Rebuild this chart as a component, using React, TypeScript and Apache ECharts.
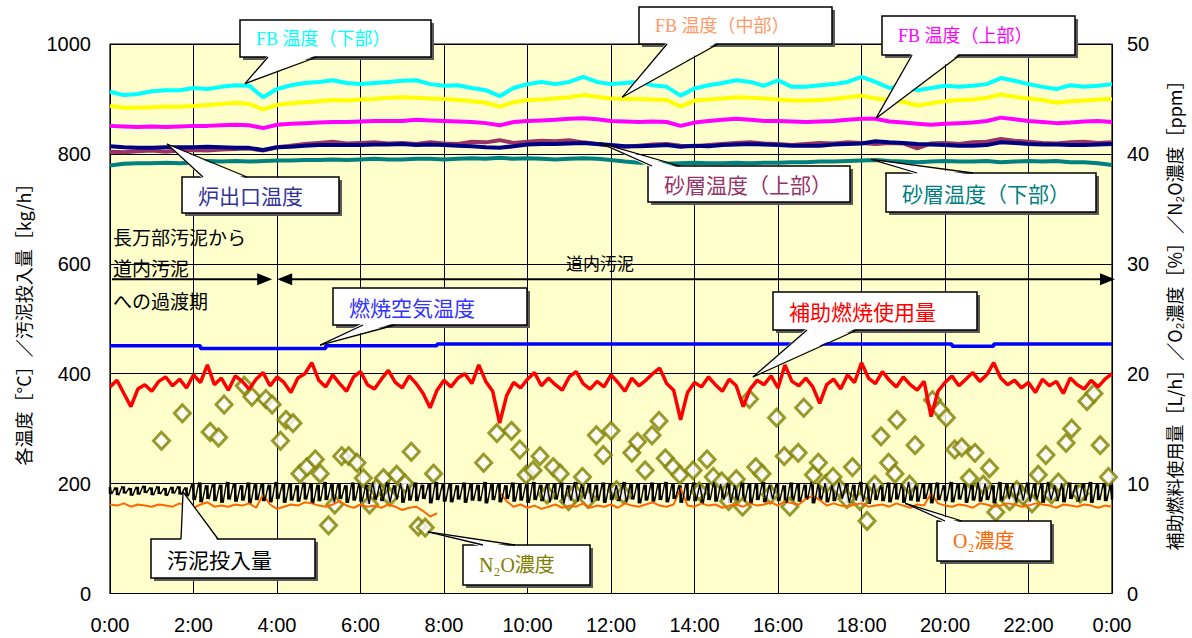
import { useEffect, useRef } from "react";
import * as echarts from "echarts";

// ---- time axis ----
const timeLabels = ["0:00", "2:00", "4:00", "6:00", "8:00", "10:00", "12:00", "14:00", "16:00", "18:00", "20:00", "22:00", "0:00"];

// temperature logs sampled every 20 min, other logs every 10 min
const tempTimes = Array.from({ length: 73 }, (_, i) => i * 20);
const logTimes = Array.from({ length: 145 }, (_, i) => i * 10);

// ---- temperatures [°C] ----
const fbLower = [
  913, 907, 909, 914, 916, 916, 920, 918, 922, 925,
  924, 903, 918, 925, 929, 931, 934, 929, 927, 929,
  931, 933, 934, 927, 924, 925, 920, 916, 905, 920,
  927, 931, 927, 931, 940, 931, 927, 929, 931, 925,
  922, 906, 919, 925, 929, 934, 931, 924, 934, 922,
  922, 925, 927, 931, 940, 931, 920, 924, 916, 920,
  924, 922, 924, 927, 938, 933, 927, 922, 918, 925,
  922, 924, 927,
];
const fbMiddle = [
  887, 884, 884, 885, 886, 886, 887, 889, 891, 893,
  891, 881, 889, 892, 894, 896, 898, 897, 899, 900,
  902, 903, 902, 901, 900, 898, 896, 893, 886, 894,
  898, 899, 901, 903, 907, 904, 901, 900, 900, 899,
  898, 886, 897, 899, 901, 903, 902, 901, 899, 897,
  897, 898, 900, 903, 906, 901, 898, 895, 888, 892,
  896, 898, 899, 902, 908, 904, 901, 898, 893, 896,
  897, 899, 900,
];
const fbUpper = [
  851, 850, 849, 850, 849, 850, 851, 851, 852, 853,
  852, 847, 853, 855, 856, 857, 858, 858, 859, 860,
  860, 860, 862, 861, 860, 859, 858, 856, 852, 858,
  860, 861, 862, 864, 865, 863, 860, 859, 858, 859,
  858, 851, 857, 860, 862, 864, 862, 860, 860, 859,
  858, 859, 860, 862, 864, 864, 859, 857, 855, 853,
  855, 856, 857, 860, 866, 863, 860, 858, 856, 857,
  859, 860, 858,
];
const furnaceOutlet = [
  814, 812, 811, 811, 812, 812, 812, 813, 812, 811,
  811, 807, 812, 813, 815, 816, 816, 816, 816, 817,
  817, 818, 816, 817, 816, 815, 814, 812, 811, 814,
  817, 818, 818, 819, 820, 818, 816, 814, 814, 815,
  816, 813, 815, 814, 816, 817, 818, 817, 816, 815,
  815, 815, 817, 818, 819, 823, 821, 820, 818, 817,
  816, 815, 815, 816, 821, 820, 818, 817, 817, 816,
  816, 817, 818,
];
const sandUpper = [
  804, 803, 805, 806, 804, 806, 807, 806, 808, 809,
  810, 806, 812, 815, 818, 820, 822, 819, 820, 821,
  819, 820, 818, 821, 819, 818, 822, 821, 825, 820,
  822, 824, 823, 825, 821, 818, 815, 813, 815, 817,
  818, 815, 814, 816, 818, 820, 821, 819, 818, 816,
  818, 820, 819, 821, 820, 818, 820, 819, 810, 819,
  820, 818, 821, 822, 827, 824, 822, 820, 819, 821,
  822, 820, 821,
];
const sandLower = [
  779, 782, 783, 783, 784, 783, 784, 787, 786, 787,
  786, 787, 788, 788, 789, 789, 790, 789, 790, 791,
  790, 790, 791, 791, 790, 791, 792, 791, 793, 791,
  792, 791, 790, 791, 792, 791, 789, 786, 784, 784,
  782, 783, 784, 783, 783, 784, 783, 784, 784, 785,
  785, 786, 786, 787, 788, 789, 787, 786, 785, 786,
  787, 786, 786, 787, 785, 786, 787, 786, 787, 785,
  785, 783, 780,
];
const combustionAir = [
  451, 451, 451, 451, 451, 451, 451, 446, 446, 446,
  446, 446, 446, 446, 446, 446, 451, 451, 451, 451,
  451, 451, 451, 451, 454, 454, 454, 454, 454, 454,
  454, 454, 454, 454, 454, 454, 454, 454, 454, 454,
  454, 454, 454, 454, 454, 454, 454, 454, 454, 454,
  454, 454, 454, 454, 454, 454, 454, 454, 454, 454,
  454, 450, 450, 450, 454, 454, 454, 454, 454, 454,
  454, 454, 454,
];

// ---- sludge feed [kg/h]: upper / lower swing of each 10 min ----
const sludgeHigh = [
  194, 193, 195, 192, 194, 196, 193, 195, 192, 194,
  195, 193, 199, 202, 197, 201, 198, 203, 200, 197,
  202, 199, 201, 198, 203, 199, 201, 197, 202, 200,
  198, 203, 199, 201, 197, 202, 200, 198, 202, 199,
  203, 197, 201, 199, 202, 198, 200, 203, 199, 201,
  197, 202, 200, 198, 203, 199, 201, 197, 202, 200,
  199, 203, 198, 201, 200, 202, 197, 203, 199, 201,
  198, 202, 200, 197, 203, 199, 201, 198, 202, 200,
  203, 199, 197, 201, 202, 198, 200, 203, 199, 201,
  197, 202, 200, 199, 203, 198, 201, 197, 202, 200,
  198, 203, 199, 201, 197, 202, 200, 198, 203, 199,
  201, 197, 202, 200, 199, 203, 198, 201, 200, 202,
  197, 203, 199, 201, 198, 202, 200, 197, 203, 199,
  201, 198, 202, 200, 199, 203, 197, 201, 202, 198,
  200, 203, 199, 201, 198,
];
const sludgeLow = [
  181, 179, 182, 178, 180, 183, 179, 181, 178, 182,
  180, 177, 170, 166, 172, 168, 165, 171, 167, 169,
  164, 170, 168, 166, 172, 165, 169, 167, 171, 164,
  168, 170, 166, 172, 165, 169, 167, 163, 170, 168,
  166, 171, 165, 169, 168, 172, 164, 170, 167, 166,
  171, 165, 169, 168, 164, 170, 166, 172, 167, 169,
  165, 170, 168, 166, 171, 164, 169, 167, 172, 166,
  169, 165, 170, 168, 166, 171, 164, 169, 167, 170,
  166, 172, 165, 169, 168, 164, 170, 167, 171, 165,
  169, 167, 164, 170, 166, 172, 168, 165, 169, 167,
  171, 164, 170, 166, 168, 172, 165, 169, 167, 163,
  170, 168, 166, 171, 165, 169, 167, 172, 164, 170,
  168, 166, 171, 165, 169, 167, 170, 164, 168, 172,
  166, 169, 167, 171, 165, 170, 168, 166, 172, 167,
  169, 165, 170, 168, 171,
];

// ---- auxiliary fuel [L/h] ----
const auxFuel = [
  18.8, 19.4, 18.2, 17.0, 18.6, 19.0, 18.4, 19.3, 19.7, 18.9,
  19.5, 18.7, 19.9, 19.2, 20.8, 19.0, 19.6, 18.5, 19.8, 19.3,
  18.6, 19.5, 20.1, 18.9, 19.7, 19.2, 18.3, 19.6, 20.0, 21.0,
  19.4, 18.8, 19.9, 19.1, 18.4, 19.7, 20.2, 19.0, 18.6, 19.5,
  20.3, 19.2, 18.7, 19.8, 19.1, 18.2, 16.9, 18.5, 19.4, 18.8,
  19.6, 20.0, 19.1, 20.8, 19.3, 18.4, 15.5, 18.0, 19.2, 18.7,
  19.5, 20.1, 18.9, 19.6, 19.0, 18.5, 19.7, 20.2, 19.1, 18.6,
  19.3, 18.8, 19.9, 19.2, 18.4, 19.6, 18.9, 19.4, 20.0, 20.5,
  19.1, 18.5, 15.8, 18.3, 19.2, 18.8, 19.7, 19.0, 18.4, 19.5,
  18.9, 17.0, 18.6, 19.4, 19.0, 19.8, 18.7, 20.8, 19.3, 18.9,
  19.6, 18.8, 17.3, 19.0, 19.5, 18.6, 19.9, 19.2, 21.0, 19.6,
  19.1, 20.2, 19.4, 18.8, 19.7, 19.0, 18.5, 19.3, 16.1, 18.4,
  19.2, 19.8, 18.9, 19.5, 20.1, 19.3, 19.9, 21.0, 19.6, 19.0,
  19.4, 18.7, 19.2, 18.3, 19.5, 18.9, 19.3, 18.2, 19.6, 19.0,
  18.6, 19.4, 18.8, 19.5, 20.0,
];

// ---- O2 [%] ----
const oxygen = [
  8.1, 8.0, 8.2, 7.9, 8.1, 8.0, 7.9, 8.1, 8.0, 7.9,
  8.2, 8.0, 7.8, 8.1, 8.3, 7.9, 8.0, 7.9, 8.1, 8.0,
  8.2, 7.8, 9.0, 8.1, 7.7, 7.9, 8.1, 8.0, 8.3, 8.2,
  8.0, 7.9, 8.1, 8.4, 8.0, 7.8, 8.1, 7.9, 8.0, 7.8,
  8.1, 7.9, 7.6, 7.8, 7.9, 7.5, 7.0, 7.3, null, null,
  null, null, null, null, null, null, 9.2, 8.4, 7.9, 8.1,
  7.8, 8.0, 7.7, 7.9, 8.1, 7.8, 8.0, 7.9, 8.2, 7.8,
  8.0, 7.9, 8.1, 7.8, 8.2, 8.0, 7.9, 8.1, 8.3, 8.0,
  7.9, 8.1, 9.6, 8.0, 7.9, 8.2, 8.0, 8.1, 7.8, 8.0,
  8.1, 7.9, 8.2, 8.0, 8.1, 8.3, 8.0, 8.4, 8.2, 8.1,
  8.6, 8.9, 8.5, 8.0, 8.2, 8.0, 7.9, 8.1, 8.2, 7.9,
  8.0, 8.1, 7.9, 8.2, 8.0, 7.8, 8.1, 8.0, 9.1, 8.2,
  8.0, 7.9, 8.1, 8.0, 7.8, 8.2, 8.1, 7.9, 8.0, 8.2,
  8.1, 7.9, 8.0, 8.2, 8.1, 8.0, 7.8, 8.1, 8.0, 7.9,
  8.1, 8.0, 7.8, 8.0, 7.9,
];

// ---- N2O [ppm], spot measurements ----
const n2oTimes = [
  74, 104, 144, 156, 164, 193, 204, 224, 233, 245,
  253, 263, 273, 283, 295, 302, 314, 323, 333, 343,
  355, 364, 373, 383, 393, 402, 412, 424, 433, 443,
  453, 465, 537, 556, 577, 589, 598, 608, 618, 628,
  637, 647, 659, 668, 679, 687, 699, 709, 720, 728,
  738, 750, 758, 769, 779, 789, 798, 809, 819, 838,
  847, 858, 867, 879, 889, 900, 909, 919, 928, 937,
  949, 958, 969, 977, 989, 997, 1011, 1018, 1029, 1039,
  1048, 1059, 1067, 1078, 1088, 1099, 1108, 1119, 1128, 1131,
  1149, 1157, 1182, 1193, 1202, 1214, 1224, 1235, 1243, 1255,
  1264, 1273, 1293, 1303, 1313, 1325, 1334, 1345, 1353, 1363,
  1374, 1382, 1394, 1404, 1414, 1423, 1435,
];
const n2oValues = [
  13.9, 16.4, 14.7, 14.2, 17.2, 18.9, 17.9, 17.7, 17.2, 13.9,
  15.8, 15.5, 10.9, 11.5, 12.2, 10.9, 6.2, 8.1, 12.5, 12.5,
  11.9, 10.5, 8.1, 9.6, 10.5, 8.8, 10.8, 10.0, 12.9, 6.1,
  6.0, 10.9, 11.9, 14.6, 14.8, 13.1, 10.8, 11.2, 12.5, 9.0,
  11.5, 10.9, 8.4, 9.1, 10.6, 8.6, 14.4, 12.6, 14.8, 9.4,
  9.0, 12.8, 13.8, 11.2, 14.4, 15.7, 12.3, 11.5, 10.8, 11.2,
  9.3, 12.2, 10.6, 10.2, 8.4, 10.4, 7.9, 17.7, 11.5, 10.9,
  9.0, 16.0, 12.5, 7.9, 12.8, 16.9, 10.8, 11.9, 10.0, 10.6,
  9.6, 8.6, 11.5, 8.4, 6.6, 9.9, 14.3, 11.9, 10.9, 15.8,
  9.9, 13.5, 17.6, 16.7, 16.0, 13.1, 13.3, 10.5, 12.8, 9.9,
  11.4, 7.4, 8.4, 9.4, 8.8, 8.2, 10.8, 12.6, 9.0, 10.1,
  13.7, 15.0, 9.1, 17.5, 18.2, 13.5, 10.6,
];

// ---- sludge changeover ----
const changeoverTime = 236; // minutes
const changeoverLevel = 572; // °C axis height of the arrows

const SANS = "'Liberation Sans', 'Noto Sans CJK JP', sans-serif";
const GOTHIC = "'Noto Sans CJK JP', 'Liberation Sans', sans-serif";
const MINCHO = "'Liberation Serif', 'Noto Sans CJK JP', serif";

type Callout = {
  text: string;
  color: string;
  font: string;
  size: number;
  box: [number, number, number, number];
  edge: "top" | "bottom";
  base: [number, number];
  tip: [number, number, number]; // time, value, y axis index
};

const callouts: Callout[] = [
  { text: "FB 温度（下部）", color: "#00FFFF", font: MINCHO, size: 18, box: [240, 20, 191, 37], edge: "bottom", base: [268, 317], tip: [194, 928, 0] },
  { text: "FB 温度（中部）", color: "#FF9966", font: MINCHO, size: 18, box: [639, 7, 193, 37], edge: "bottom", base: [667, 718], tip: [736, 903, 0] },
  { text: "FB 温度（上部）", color: "#FF00FF", font: MINCHO, size: 18, box: [882, 16, 193, 39], edge: "bottom", base: [912, 960], tip: [1101, 865, 0] },
  { text: "炉出口温度", color: "#333399", font: GOTHIC, size: 21, box: [182, 177, 157, 36], edge: "top", base: [203, 247], tip: [82, 818, 0] },
  { text: "砂層温度（上部）", color: "#993366", font: GOTHIC, size: 21, box: [648, 166, 202, 36], edge: "top", base: [652, 680], tip: [704, 820, 0] },
  { text: "砂層温度（下部）", color: "#008080", font: GOTHIC, size: 21, box: [886, 173, 210, 39], edge: "top", base: [917, 973], tip: [1094, 790, 0] },
  { text: "燃焼空気温度", color: "#3333FF", font: GOTHIC, size: 21, box: [333, 288, 194, 37], edge: "bottom", base: [363, 395], tip: [302, 452, 0] },
  { text: "補助燃焼使用量", color: "#FF0000", font: GOTHIC, size: 21, box: [773, 292, 204, 38], edge: "bottom", base: [807, 857], tip: [924, 19.7, 1] },
  { text: "汚泥投入量", color: "#000000", font: GOTHIC, size: 21, box: [151, 539, 164, 39], edge: "top", base: [181, 218], tip: [105, 185, 0] },
  { text: "N₂O濃度", color: "#808000", font: MINCHO, size: 20, box: [463, 545, 127, 40], edge: "top", base: [483, 515], tip: [457, 5.6, 1] },
  { text: "O₂濃度", color: "#FF6600", font: MINCHO, size: 20, box: [937, 521, 114, 40], edge: "top", base: [945, 962], tip: [1143, 8.2, 1] },
];

function textEl(x: number, y: number, text: string, opts: any = {}) {
  const align = opts.align || "left";
  return {
    type: "text",
    x,
    y,
    rotation: opts.rotation || 0,
    z: 110,
    style: {
      text,
      fill: opts.color || "#000",
      fontSize: opts.size || 18,
      fontFamily: opts.font || GOTHIC,
      align,
      textAlign: align,
      verticalAlign: "middle",
      textVerticalAlign: "middle",
    },
  };
}

function buildGraphics(chart: echarts.ECharts) {
  const px = (t: number, v: number, axis: number) =>
    chart.convertToPixel({ xAxisIndex: 0, yAxisIndex: axis }, [t, v]) as number[];
  const els: any[] = [];

  // axis titles
  els.push(textEl(23, 320, "各温度［°C］／汚泥投入量［kg/h］", { rotation: Math.PI / 2, align: "center", size: 18 }));
  els.push(textEl(1174, 311, "補助燃料使用量［L/h］／O₂濃度［%］／N₂O濃度［ppm］", { rotation: Math.PI / 2, align: "center", size: 18 }));

  // sludge changeover arrows
  const [x0, ya] = px(0, changeoverLevel, 0);
  const [xc] = px(changeoverTime, changeoverLevel, 0);
  const [x1] = px(1440, changeoverLevel, 0);
  const lineStyle = { stroke: "#000", lineWidth: 2 };
  els.push({ type: "line", z: 105, shape: { x1: x0 + 2, y1: ya, x2: xc - 12, y2: ya }, style: lineStyle });
  els.push({ type: "line", z: 105, shape: { x1: xc + 12, y1: ya, x2: x1 - 8, y2: ya }, style: lineStyle });
  const head = (tipX: number, dir: number) => ({
    type: "polygon",
    z: 105,
    shape: { points: [[tipX, ya], [tipX - dir * 15, ya - 6], [tipX - dir * 15, ya + 6]] },
    style: { fill: "#000" },
  });
  els.push(head(xc - 2, 1), head(xc + 3, -1), head(x1 + 3, 1));
  els.push(textEl(113, 236, "長万部汚泥から", { size: 19 }));
  els.push(textEl(113, 267, "道内汚泥", { size: 19 }));
  els.push(textEl(113, 300, "への過渡期", { size: 19 }));
  els.push(textEl(600, 262, "道内汚泥", { size: 17, align: "center" }));

  // callout boxes
  for (const c of callouts) {
    const [bx, by, bw, bh] = c.box;
    const [tx, ty] = px(c.tip[0], c.tip[1], c.tip[2]);
    const edgeY = c.edge === "top" ? by : by + bh;
    const inset = c.edge === "top" ? 2 : -2;
    els.push({ type: "rect", z: 100, shape: { x: bx + 3, y: by + 3, width: bw, height: bh }, style: { fill: "#5a5a5a" } });
    els.push({ type: "rect", z: 101, shape: { x: bx, y: by, width: bw, height: bh }, style: { fill: "#fff", stroke: "#000", lineWidth: 1.5 } });
    els.push({
      type: "polygon",
      z: 102,
      shape: { points: [[c.base[0], edgeY + inset], [tx, ty], [c.base[1], edgeY + inset]] },
      style: { fill: "#fff" },
    });
    els.push({ type: "line", z: 103, shape: { x1: c.base[0], y1: edgeY, x2: tx, y2: ty }, style: { stroke: "#000", lineWidth: 1.3 } });
    els.push({ type: "line", z: 103, shape: { x1: c.base[1], y1: edgeY, x2: tx, y2: ty }, style: { stroke: "#000", lineWidth: 1.3 } });
    els.push(textEl(bx + 16, by + bh / 2, c.text, { color: c.color, size: c.size, font: c.font }));
  }
  return els;
}

function lineSeries(name: string, times: number[], values: (number | null)[], color: string, width: number, yAxisIndex = 0) {
  return {
    name,
    type: "line",
    yAxisIndex,
    data: times.map((t, i) => [t, values[i]]),
    showSymbol: false,
    symbol: "none",
    connectNulls: false,
    lineStyle: { color, width },
    itemStyle: { color },
  };
}

export default function App() {
  const ref = useRef<HTMLDivElement>(null);

  useEffect(() => {
    if (!ref.current) return;
    const chart = echarts.init(ref.current, undefined, { renderer: "svg" });

    // sludge feed drawn as its swing: a zigzag between the two extremes
    const sludgeData: number[][] = [];
    sludgeHigh.forEach((h, j) => {
      sludgeData.push([Math.max(0, logTimes[j] - 2.5), h]);
      sludgeData.push([Math.min(1440, logTimes[j] + 2.5), sludgeLow[j]]);
    });

    const axisLabel = { color: "#000", fontSize: 20, fontFamily: SANS };

    chart.setOption({
      animation: false,
      backgroundColor: "#ffffff",
      textStyle: { fontFamily: SANS },
      grid: {
        left: 110,
        right: 80,
        top: 44,
        bottom: 44.5,
        show: true,
        backgroundColor: "#FFFFCC",
        borderColor: "#000",
        borderWidth: 1.2,
      },
      xAxis: {
        type: "value",
        min: 0,
        max: 1440,
        interval: 120,
        axisLine: { show: false },
        axisTick: { show: false },
        splitLine: { show: true, lineStyle: { color: "#000", width: 1 } },
        axisLabel: { ...axisLabel, margin: 21, formatter: (v: number) => timeLabels[Math.round(v / 120)] },
      },
      yAxis: [
        {
          type: "value",
          min: 0,
          max: 1000,
          interval: 200,
          axisLine: { show: false },
          axisTick: { show: false },
          splitLine: { show: true, lineStyle: { color: "#000", width: 1 } },
          axisLabel: { ...axisLabel, margin: 19, formatter: (v: number) => String(v) },
        },
        {
          type: "value",
          position: "right",
          min: 0,
          max: 50,
          interval: 10,
          axisLine: { show: false },
          axisTick: { show: false },
          splitLine: { show: false },
          axisLabel: { ...axisLabel, margin: 15, formatter: (v: number) => String(v) },
        },
      ],
      series: [
        lineSeries("砂層温度（下部）", tempTimes, sandLower, "#008080", 4),
        lineSeries("砂層温度（上部）", tempTimes, sandUpper, "#993366", 4),
        lineSeries("炉出口温度", tempTimes, furnaceOutlet, "#000080", 4),
        lineSeries("FB温度（上部）", tempTimes, fbUpper, "#FF00FF", 4),
        lineSeries("FB温度（中部）", tempTimes, fbMiddle, "#FFFF00", 4),
        lineSeries("FB温度（下部）", tempTimes, fbLower, "#00FFFF", 4),
        { ...lineSeries("燃焼空気温度", tempTimes, combustionAir, "#0000FF", 3.5), step: "middle" },
        lineSeries("補助燃焼使用量", logTimes, auxFuel, "#FF0000", 3.5, 1),
        lineSeries("O2濃度", logTimes, oxygen, "#FF6600", 2, 1),
        {
          name: "汚泥投入量",
          type: "line",
          data: sludgeData,
          showSymbol: false,
          symbol: "none",
          lineStyle: { color: "#000", width: 1.4 },
        },
        {
          name: "汚泥投入量（振れ幅）",
          type: "custom",
          data: logTimes.map((t, j) => [t, sludgeLow[j], sludgeHigh[j]]),
          encode: { x: 0, y: [1, 2] },
          renderItem: (_params: any, api: any) => {
            const lo = api.coord([api.value(0), api.value(1)]);
            const hi = api.coord([api.value(0), api.value(2)]);
            return {
              type: "line",
              shape: { x1: lo[0], y1: lo[1], x2: hi[0], y2: hi[1] },
              style: { stroke: "#000", lineWidth: 2.5 },
            };
          },
        },
        {
          name: "N2O濃度",
          type: "scatter",
          yAxisIndex: 1,
          data: n2oTimes.map((t, i) => [t, n2oValues[i]]),
          symbol: "diamond",
          symbolSize: [16, 17],
          itemStyle: { color: "#ffffff", borderColor: "#808000", borderWidth: 3 },
        },
      ],
    });

    chart.setOption({ graphic: { elements: buildGraphics(chart) } });

    return () => chart.dispose();
  }, []);

  return (
    <div
      ref={ref}
      style={{ position: "fixed", left: 0, top: 0, width: 1192, height: 638, background: "#fff" }}
    />
  );
}
